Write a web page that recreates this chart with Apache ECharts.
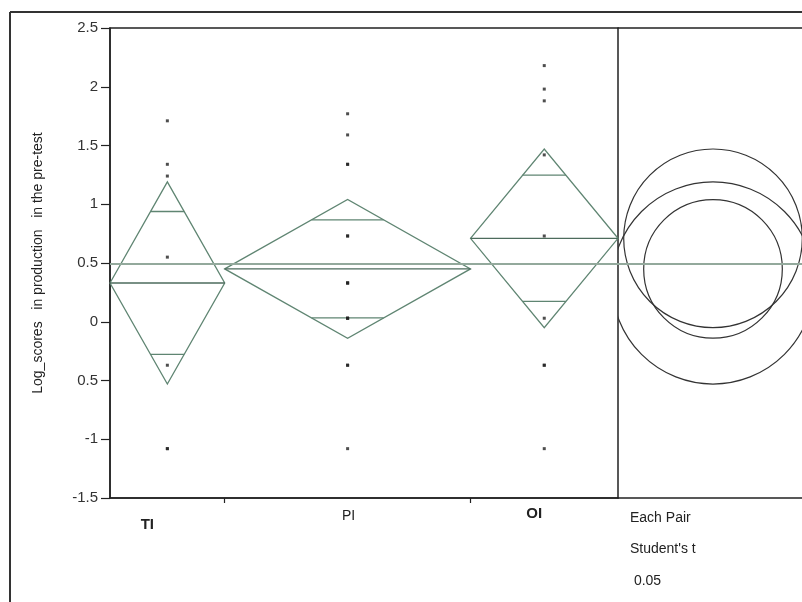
<!DOCTYPE html>
<html>
<head>
<meta charset="utf-8">
<script src="https://cdn.jsdelivr.net/npm/echarts@6/dist/echarts.min.js"></script>
<style>
  html, body { margin: 0; padding: 0; background: #ffffff; }
  #chart { width: 802px; height: 602px; }
</style>
</head>
<body>
<div id="chart"></div>
<script>
// Oneway analysis of log scores by group: means diamonds + comparison circles
const groups = ['TI', 'PI', 'OI'];
const groupN = [7, 15, 9];
const groupMean = [0.33, 0.45, 0.71];
const groupCI = [0.86, 0.59, 0.76];      // 95% half-width of each diamond / circle radius
const grandMean = 0.49;

const tiScores = [1.71, 1.34, 1.24, 0.55, -0.37, -1.08, -1.08];
const piScores = [1.77, 1.59, 1.34, 1.34, 0.73, 0.73, 0.33, 0.33, 0.33, 0.03, 0.03, 0.03, -0.37, -0.37, -1.08];
const oiScores = [2.18, 1.98, 1.88, 1.42, 0.73, 0.03, -0.37, -0.37, -1.08];

const yTickValues = [-1.5, -1, -0.5, 0, 0.5, 1, 1.5, 2, 2.5];
const yTickText = ['-1.5', '-1', '0.5', '0', '0.5', '1', '1.5', '2', '2.5'];

const yAxisTitle = 'Log_scores   in production   in the pre-test';
const testText = ['Each Pair', "Student's t", ' 0.05'];

// ---- derived group extents along the x scale (width proportional to n)
const total = groupN.reduce((a, b) => a + b, 0);
const starts = [], ends = [], centers = [];
let acc = 0;
groupN.forEach(n => { starts.push(acc); centers.push(acc + n / 2); acc += n; ends.push(acc); });
const boundaries = ends.slice(0, -1);

const scoreSets = [tiScores, piScores, oiScores];
const pointData = [];
scoreSets.forEach((arr, i) => arr.forEach(v => pointData.push([centers[i], v])));

// ---- layout
const G = { left: 110, top: 28, width: 508, height: 470 };
const C = { left: 618, top: 28, width: 184, height: 470 };
const yMin = -1.5, yMax = 2.5;
const pxPerUnit = G.height / (yMax - yMin);
const circCenterPx = 95;                       // circle centre, px from the panel's left edge
const cMin = -circCenterPx / pxPerUnit;
const cMax = (C.width - circCenterPx) / pxPerUnit;

const diamondColor = '#5f8572';
const axisColor = '#222';
const font = '"Liberation Sans", Arial, sans-serif';

const labelRich = {
  TI: { fontFamily: font, fontSize: 15, fontWeight: 'bold', color: '#222', padding: [12, 40, 0, 0] },
  PI: { fontFamily: font, fontSize: 14, color: '#222', padding: [4, 0, 0, 2] },
  OI: { fontFamily: font, fontSize: 15, fontWeight: 'bold', color: '#222', padding: [1, 20, 0, 0] }
};

const lineAxis = { show: true, onZero: false, lineStyle: { color: axisColor, width: 1.5 } };

const chart = echarts.init(document.getElementById('chart'), null, { renderer: 'canvas' });

chart.setOption({
  backgroundColor: '#ffffff',
  animation: false,
  grid: [
    Object.assign({ show: true, borderColor: axisColor, borderWidth: 1.5, backgroundColor: 'transparent' }, G),
    Object.assign({ show: false }, C)
  ],
  xAxis: [
    {
      type: 'value', gridIndex: 0, min: 0, max: total, position: 'bottom',
      axisLine: lineAxis,
      axisTick: { show: true, customValues: boundaries, length: 5, lineStyle: { color: axisColor, width: 1.2 } },
      axisLabel: {
        show: true, customValues: centers, margin: 7,
        formatter: v => {
          const i = centers.findIndex(c => Math.abs(c - v) < 1e-6);
          return i < 0 ? '' : '{' + groups[i] + '|' + groups[i] + '}';
        },
        rich: labelRich
      },
      splitLine: { show: false }
    },
    {
      type: 'value', gridIndex: 1, min: cMin, max: cMax, position: 'bottom',
      axisLine: lineAxis, axisTick: { show: false }, axisLabel: { show: false },
      splitLine: { show: false }
    },
    {
      type: 'value', gridIndex: 1, min: cMin, max: cMax, position: 'top',
      axisLine: lineAxis, axisTick: { show: false }, axisLabel: { show: false },
      splitLine: { show: false }
    }
  ],
  yAxis: [
    {
      type: 'value', gridIndex: 0, min: yMin, max: yMax, interval: 0.5,
      axisLine: lineAxis,
      axisTick: { show: true, length: 9, lineStyle: { color: axisColor, width: 1.2 } },
      axisLabel: {
        margin: 12, fontFamily: font, fontSize: 15, color: '#333',
        formatter: v => {
          const i = yTickValues.findIndex(t => Math.abs(t - v) < 1e-6);
          return i < 0 ? '' : yTickText[i];
        }
      },
      splitLine: { show: false },
      name: yAxisTitle, nameLocation: 'middle', nameGap: 65,
      nameTextStyle: { fontFamily: font, fontSize: 14, color: '#222' }
    },
    {
      type: 'value', gridIndex: 1, min: yMin, max: yMax,
      show: false, splitLine: { show: false }
    }
  ],
  series: [
    // grand mean line across the main panel
    {
      type: 'line', xAxisIndex: 0, yAxisIndex: 0, data: [], silent: true,
      markLine: {
        symbol: 'none', silent: true, label: { show: false },
        lineStyle: { color: '#93a99c', width: 2, type: 'solid' },
        data: [{ yAxis: grandMean }]
      }
    },
    // grand mean line across the comparison-circle panel
    {
      type: 'line', xAxisIndex: 1, yAxisIndex: 1, data: [], silent: true,
      markLine: {
        symbol: 'none', silent: true, label: { show: false },
        lineStyle: { color: '#93a99c', width: 2, type: 'solid' },
        data: [{ yAxis: grandMean }]
      }
    },
    // means diamonds
    {
      type: 'custom', xAxisIndex: 0, yAxisIndex: 0, silent: true,
      data: groups.map((g, i) => [starts[i], ends[i], groupMean[i], groupCI[i]]),
      renderItem: (params, api) => {
        const x0 = api.value(0), x1 = api.value(1), m = api.value(2), ci = api.value(3);
        const xc = (x0 + x1) / 2, hw = (x1 - x0) / 2;
        const L = api.coord([x0, m]), R = api.coord([x1, m]);
        const T = api.coord([xc, m + ci]), B = api.coord([xc, m - ci]);
        const k = 1 / Math.SQRT2;
        const ow = hw * (1 - k);
        const oU1 = api.coord([xc - ow, m + ci * k]), oU2 = api.coord([xc + ow, m + ci * k]);
        const oD1 = api.coord([xc - ow, m - ci * k]), oD2 = api.coord([xc + ow, m - ci * k]);
        const ls = { stroke: diamondColor, lineWidth: 1.3, fill: null };
        return {
          type: 'group',
          children: [
            { type: 'polygon', shape: { points: [L, T, R, B] }, style: ls },
            { type: 'line', shape: { x1: L[0], y1: L[1], x2: R[0], y2: R[1] }, style: { stroke: '#4d6b5c', lineWidth: 1.4 } },
            { type: 'line', shape: { x1: oU1[0], y1: oU1[1], x2: oU2[0], y2: oU2[1] }, style: ls },
            { type: 'line', shape: { x1: oD1[0], y1: oD1[1], x2: oD2[0], y2: oD2[1] }, style: ls }
          ]
        };
      }
    },
    // individual scores
    {
      type: 'scatter', xAxisIndex: 0, yAxisIndex: 0, silent: true,
      symbol: 'rect', symbolSize: 3,
      itemStyle: { color: '#222' },
      data: pointData
    },
    // comparison circles (Student's t, each pair)
    {
      type: 'custom', xAxisIndex: 1, yAxisIndex: 1, silent: true, clip: true,
      data: groups.map((g, i) => [groupMean[i], groupCI[i]]),
      renderItem: (params, api) => {
        const m = api.value(0), r = api.value(1);
        const c = api.coord([0, m]);
        const rp = api.size([0, r])[1];
        return {
          type: 'circle',
          shape: { cx: c[0], cy: c[1], r: rp },
          style: { stroke: '#333', lineWidth: 1.2, fill: null }
        };
      }
    }
  ],
  graphic: [
    { type: 'line', shape: { x1: 10, y1: 12, x2: 10, y2: 602 }, style: { stroke: '#333', lineWidth: 2 } },
    { type: 'line', shape: { x1: 10, y1: 12, x2: 802, y2: 12 }, style: { stroke: '#333', lineWidth: 2 } },
    { type: 'text', left: 630, top: 511, style: { text: testText[0], fontFamily: font, fontSize: 14, fill: '#222' } },
    { type: 'text', left: 630, top: 542, style: { text: testText[1], fontFamily: font, fontSize: 14, fill: '#222' } },
    { type: 'text', left: 630, top: 574, style: { text: testText[2], fontFamily: font, fontSize: 14, fill: '#222' } }
  ]
});
</script>
</body>
</html>
